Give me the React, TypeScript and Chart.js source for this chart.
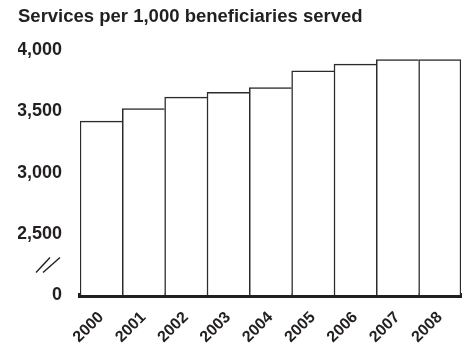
import React, { useEffect, useRef } from "react";
import { Chart, registerables } from "chart.js";

Chart.register(...registerables);

const TITLE = "Services per 1,000 beneficiaries served";
const YEARS = ["2000", "2001", "2002", "2003", "2004", "2005", "2006", "2007", "2008"];
const SERVICES = [3420, 3523, 3617, 3655, 3694, 3831, 3886, 3924, 3924];
const AXIS_MIN = 2000; // shown as "0" (broken axis)
const AXIS_MAX = 4000;
const AXIS_STEP = 500;
const BREAK_VALUE = 2250;

const INK = "#231f20";
const FONT = "'Liberation Sans', Arial, Helvetica, sans-serif";

const breakPlugin = {
  id: "axisBreak",
  afterDraw(chart: any) {
    const y = chart.scales.y;
    const ctx = chart.ctx;
    const cy = y.getPixelForValue(BREAK_VALUE);
    const right = chart.chartArea.left - 20;
    ctx.save();
    ctx.strokeStyle = INK;
    ctx.lineWidth = 1.4;
    const segs = [
      [right - 24, cy + 8, right - 10, cy - 7],
      [right - 17, cy + 8, right - 0, cy - 7],
    ];
    for (const s of segs) {
      ctx.beginPath();
      ctx.moveTo(s[0], s[1]);
      ctx.lineTo(s[2], s[3]);
      ctx.stroke();
    }
    ctx.restore();
  },
};

export default function App() {
  const ref = useRef<HTMLCanvasElement>(null);
  useEffect(() => {
    if (!ref.current) return;
    const last = SERVICES.length - 1;
    const chart = new Chart(ref.current, {
      type: "bar",
      data: {
        labels: YEARS,
        datasets: [
          {
            data: SERVICES,
            base: AXIS_MIN,
            backgroundColor: "#ffffff",
            borderColor: "#2b2b2b",
            borderWidth: (c: any) => ({ top: 1.5, left: 1.5, right: c.dataIndex === last ? 1.5 : 0, bottom: 0 }),
            borderSkipped: false,
            categoryPercentage: 1,
            barPercentage: 1,
          } as any,
        ],
      },
      options: {
        responsive: false,
        animation: false,
        layout: { padding: { left: 18, right: 9, top: 0, bottom: 0 } },
        plugins: {
          legend: { display: false },
          tooltip: { enabled: false },
          title: {
            display: true,
            text: TITLE,
            align: "start",
            color: INK,
            font: { family: FONT, size: 18.5, weight: "bold", lineHeight: 1.2 },
            padding: { top: 6, bottom: 22 },
          },
        },
        scales: {
          x: {
            grid: { display: false, drawTicks: false },
            border: { display: true, color: INK, width: 5 },
            ticks: {
              color: INK,
              font: { family: FONT, size: 16, weight: "bold" },
              maxRotation: 45,
              minRotation: 45,
              padding: 13,
            },
            afterFit(scale: any) {
              scale.height = 54;
            },
          },
          y: {
            min: AXIS_MIN,
            max: AXIS_MAX,
            grid: { display: false, drawTicks: false },
            border: { display: false },
            ticks: {
              stepSize: AXIS_STEP,
              color: INK,
              font: { family: FONT, size: 18, weight: "bold" },
              padding: 18,
              callback: (v: any) => (v === AXIS_MIN ? "0" : Number(v).toLocaleString("en-US")),
            },
            afterFit(scale: any) {
              scale.width = 62;
            },
          },
        },
      },
      plugins: [breakPlugin],
    });
    return () => chart.destroy();
  }, []);
  return (
    <div style={{ position: "absolute", left: 0, top: 0, width: 470, height: 349, background: "#fff" }}>
      <canvas ref={ref} width={470} height={349} />
    </div>
  );
}
